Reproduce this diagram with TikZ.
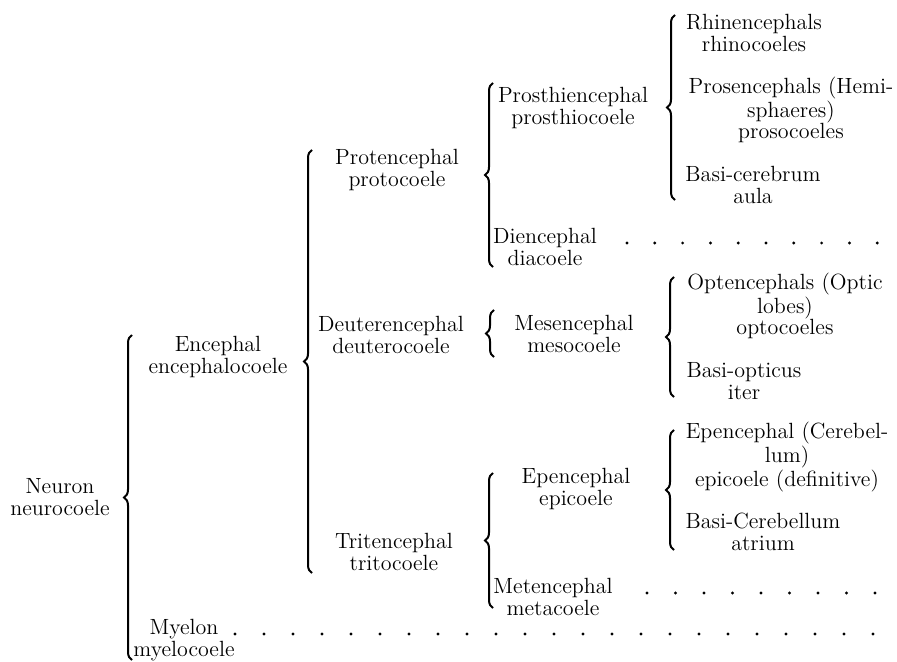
\documentclass[tikz,border=0pt]{standalone}
\usetikzlibrary{decorations.pathreplacing}

\tikzset{
  entry/.style={align=center, inner sep=0pt, font=\fontsize{11}{10.8}\selectfont},
  brc/.style={decorate, decoration={brace, amplitude=4pt}, line width=1pt},
  leader/.style={line width=1.6pt, line cap=round, dash pattern=on 0pt off #1}
}

\begin{document}
\begin{tikzpicture}[x=0.5pt,y=-0.5pt]
\useasboundingbox (0,0) rectangle (897,662);

\node[entry] (neuron) at (60,497) {Neuron\\neurocoele};
\node[entry] (encephal) at (218,357) {Encephal\\encephalocoele};
\node[entry] (protenc) at (397,170) {Protencephal\\protocoele};
\node[entry] (deuterenc) at (391,335) {Deuterencephal\\deuterocoele};
\node[entry] (tritenc) at (394,552) {Tritencephal\\tritocoele};
\node[entry] (myelon) at (184,640) {Myelon\\myelocoele};

\node[entry] (prosthienc) at (573,108) {Prosthiencephal\\prosthiocoele};
\node[entry] (dienc) at (545,247) {Diencephal\\diacoele};
\node[entry] (mesenc) at (574,334) {Mesencephal\\mesocoele};
\node[entry] (epenc) at (576,489) {Epencephal\\epicoele};
\node[entry] (metenc) at (553,597) {Metencephal\\metacoele};

\node[entry] (rhinenc) at (754,33) {Rhinencephals\\rhinocoeles};
\node[entry] (prosenc) at (791,110) {Prosencephals (Hemi-\\sphaeres)\\prosocoeles};
\node[entry] (basicereb) at (753,185) {Basi-cerebrum\\aula};
\node[entry] (optenc) at (785,306) {Optencephals (Optic\\lobes)\\optocoeles};
\node[entry] (basiopt) at (744,381) {Basi-opticus\\iter};
\node[entry] (cerebel) at (787,457) {Epencephal (Cerebel-\\lum)\\epicoele (definitive)};
\node[entry] (basicerebel) at (763,532) {Basi-Cerebellum\\atrium};

% braces
\draw[brc] (132,660) -- (132,335);
\draw[brc] (312,573) -- (312,150);
\draw[brc] (493,267) -- (493,83);
\draw[brc] (494,357) -- (494,310);
\draw[brc] (493,608) -- (493,473);
\draw[brc] (675,200) -- (675,15);
\draw[brc] (674,397) -- (674,277);
\draw[brc] (674,550) -- (674,430);

% dotted leaders
\coordinate (dienc start) at (627,243);
\coordinate (dienc end) at (878,243);
\coordinate (metenc start) at (647,593);
\coordinate (metenc end) at (876,593);
\coordinate (myelon start) at (235,634);
\coordinate (myelon end) at (874,634);
\path[draw,leader=13.9pt] (dienc start) -- (dienc end);
\path[draw,leader=14.25pt] (metenc start) -- (metenc end);
\path[draw,leader=14.5pt] (myelon start) -- (myelon end);
\end{tikzpicture}
\end{document}
